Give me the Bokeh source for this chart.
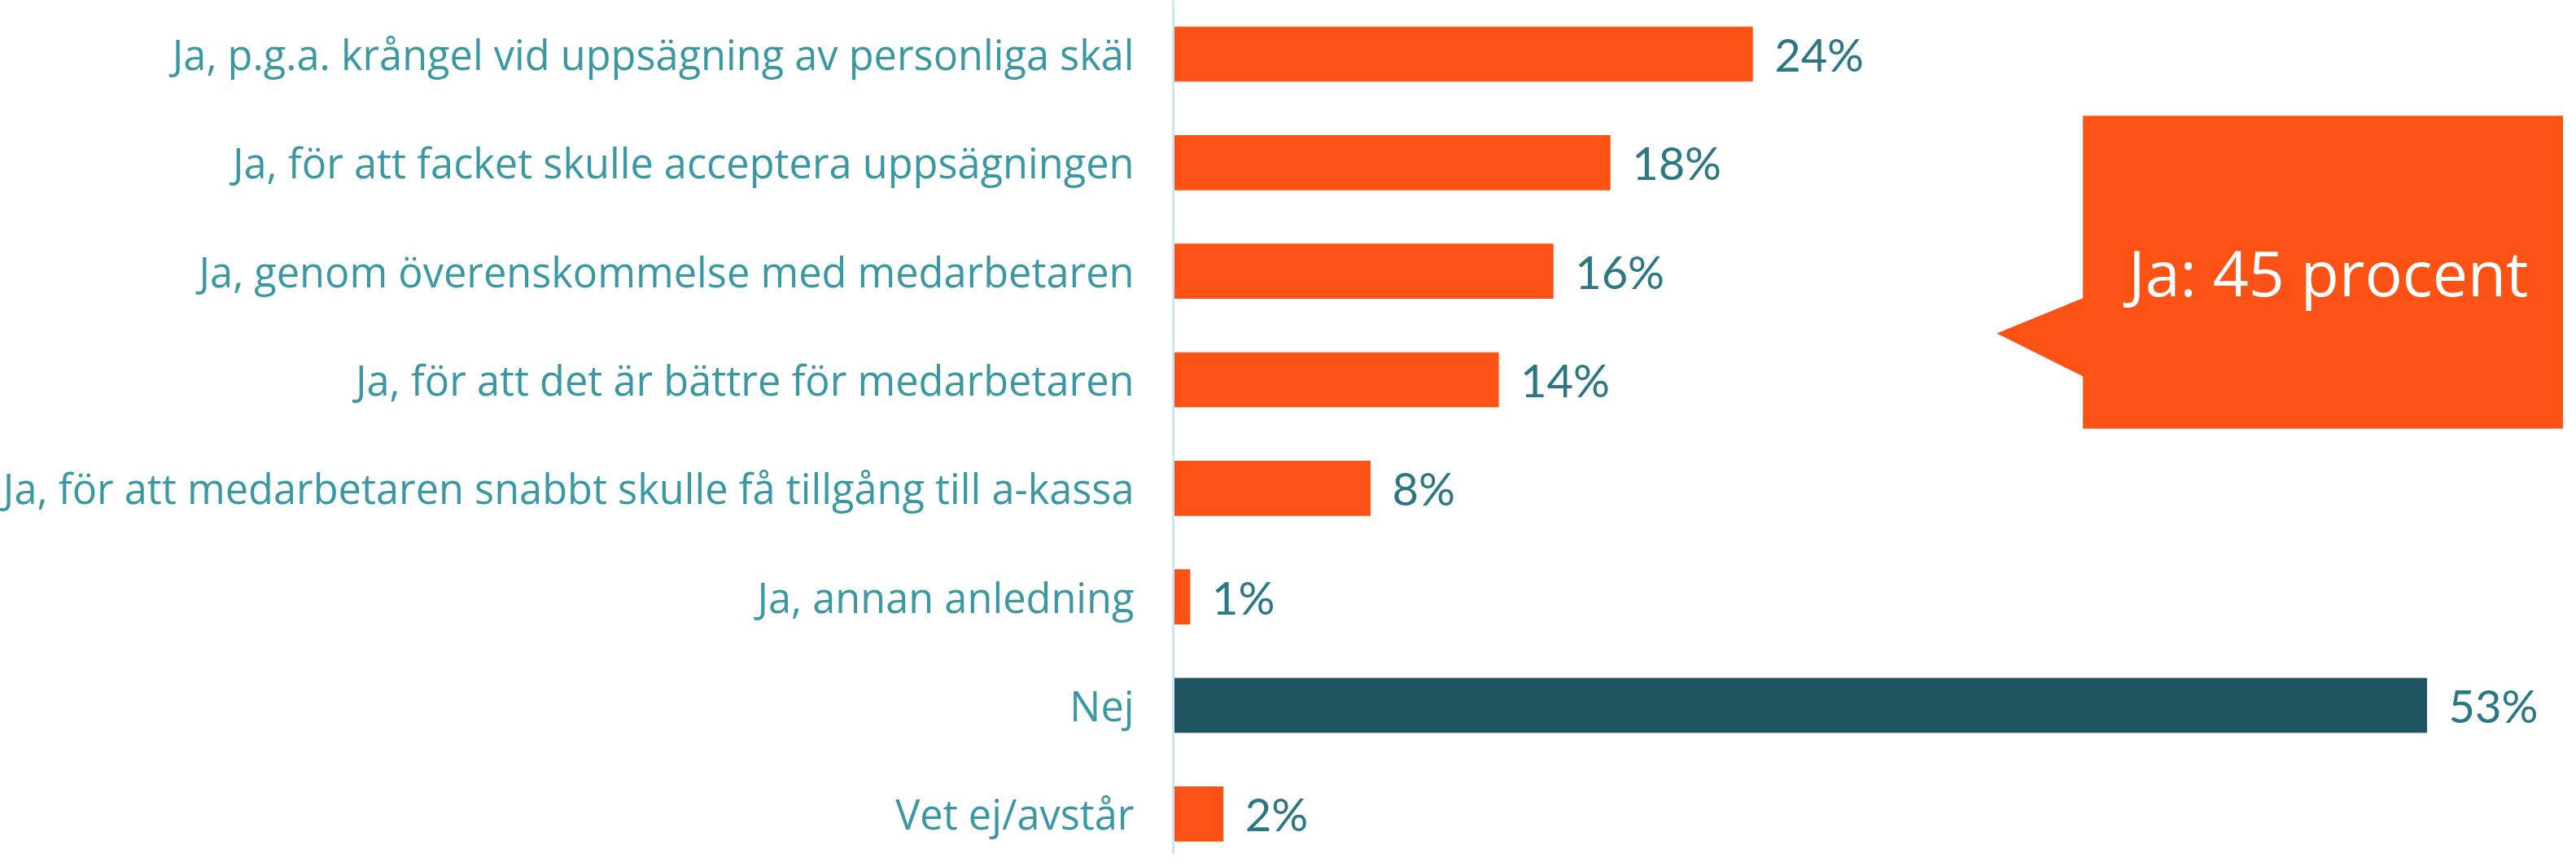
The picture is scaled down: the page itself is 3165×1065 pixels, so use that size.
from bokeh.plotting import figure
from bokeh.models import Range1d, FixedTicker, ColumnDataSource
from bokeh.core.properties import value
from bokeh.embed import file_html
from bokeh.resources import INLINE

# ---- data ----
categories = [
    "Ja, p.g.a. krångel vid uppsägning av personliga skäl",
    "Ja, för att facket skulle acceptera uppsägningen",
    "Ja, genom överenskommelse med medarbetaren",
    "Ja, för att det är bättre för medarbetaren",
    "Ja, för att medarbetaren snabbt skulle få tillgång till a-kassa",
    "Ja, annan anledning",
    "Nej",
    "Vet ej/avstår",
]
values = [24.4, 18.4, 16.0, 13.7, 8.3, 0.7, 52.8, 2.1]
value_labels = ["24%", "18%", "16%", "14%", "8%", "1%", "53%", "2%"]
callout_text = "Ja: 45 procent"

ORANGE = "#FC5216"
DARK = "#1F5560"
LABEL_COL = "#3A98A3"
VALUE_COL = "#2C7784"
AXIS_COL = "#CFE8EF"

colors = [DARK if c == "Nej" else ORANGE for c in categories]
ys = [i + 0.5 for i in range(len(categories))]

W, H = 3149, 1049
LEFT = 1439
PX_PER_PCT = 29.2
x_end = (W - LEFT) / PX_PER_PCT
ROW = 133.33
y_top = 0.5 - 66 / ROW
y_bottom = y_top + H / ROW

p = figure(width=W, height=H, output_backend="svg", toolbar_location=None,
           x_range=Range1d(0, x_end), y_range=Range1d(y_bottom, y_top),
           min_border_left=LEFT, min_border_right=0, min_border_top=0, min_border_bottom=0)
p.outline_line_color = None
p.xgrid.visible = False
p.ygrid.visible = False
p.xaxis.visible = False
p.background_fill_color = "white"
p.border_fill_color = "white"

yax = p.yaxis[0]
yax.ticker = FixedTicker(ticks=ys)
yax.major_label_overrides = {y: c for y, c in zip(ys, categories)}
yax.axis_line_color = AXIS_COL
yax.axis_line_width = 3
yax.major_tick_line_color = None
yax.minor_tick_line_color = None
yax.major_label_standoff = 42
yax.major_label_text_font = "Open Sans"
yax.major_label_text_font_size = "50.5px"
yax.major_label_text_color = LABEL_COL

src = ColumnDataSource(dict(y=ys, v=values, c=colors, lab=value_labels))
p.hbar(y="y", left=0, right="v", height=0.5, color="c", source=src)
p.text(x="v", y="y", text="lab", source=src, x_offset=27,
       text_align="left", text_baseline="middle",
       text_font=value("Lato"), text_font_size="56px", text_color=VALUE_COL)

# callout shape (row units / percent units)
def px_to_x(px):
    return (px - LEFT) / PX_PER_PCT

def py_to_y(py):
    return y_top + py / ROW

cx = [px_to_x(2558), x_end, x_end, px_to_x(2558), px_to_x(2558), px_to_x(2452), px_to_x(2558)]
cy = [py_to_y(141.7), py_to_y(141.7), py_to_y(526), py_to_y(526), py_to_y(461.7), py_to_y(409), py_to_y(365.7)]
p.patch(cx, cy, color=ORANGE, line_color=None)
p.text(x=[px_to_x(2860)], y=[py_to_y(333.5)], text=[callout_text],
       text_align="center", text_baseline="middle",
       text_font=value("Open Sans"), text_font_size="77px", text_color="white")

open("out.html", "w").write(file_html(p, INLINE))
